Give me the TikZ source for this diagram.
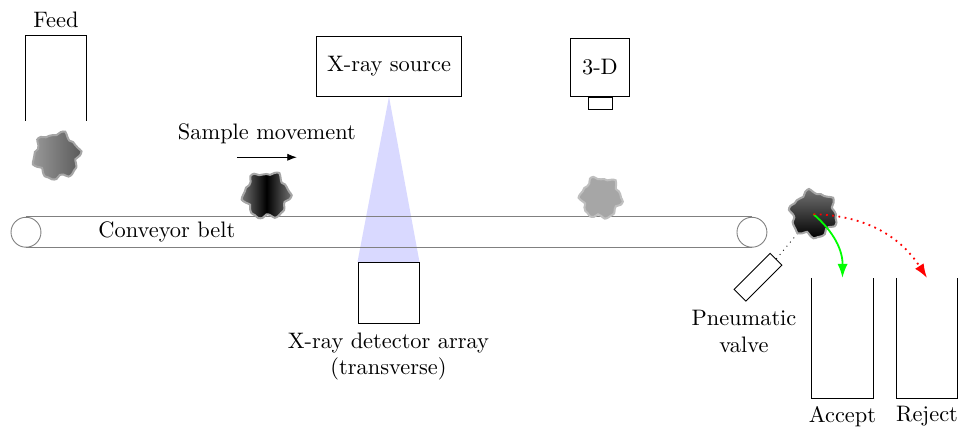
\documentclass[tikz,border=0pt]{standalone}
\usetikzlibrary{arrows.meta,positioning,backgrounds}

% a lump of ore: centre, radius, phase, style
\newcommand{\lump}[4]{\path[shift={(#1)}, #4] plot[smooth cycle, domain=0:350, samples=36, variable=\t]
  (\t:{#2*(1+0.1*sin(6*\t+#3)+0.06*sin(11*\t+2*#3))});}

\begin{document}
\begin{tikzpicture}[
  unit/.style={draw, fill=white, inner sep=0pt, align=center},
  bin/.style={inner sep=0pt, minimum width=0.95cm, minimum height=1.88cm},
  roller/.style={circle, draw=black!50, inner sep=0pt, minimum size=0.47cm},
  belt/.style={draw=black!50},
  arr/.style={-{Latex[length=2.2mm, width=1.6mm]}, thick},
  ore/.style={draw=black!35, line width=0.9pt}]
\useasboundingbox (0,0) rectangle (15.04,6.77);

% feed hopper and the two bins
\node[bin, minimum height=1.32cm, label={above:Feed}] (feed) at (0.879,5.541) {};
\draw (feed.south west) -- (feed.north west) -- (feed.north east) -- (feed.south east);
\node[bin, label={below:Accept}] (acc) at (13.226,1.46) {};
\node[bin, label={below:Reject}] (rej) at (14.553,1.46) {};
\foreach \b in {acc,rej}
  \draw (\b.north west) -- (\b.south west) -- (\b.south east) -- (\b.north east);

% x-ray source, detector and beam
\node[unit, minimum width=2.29cm, minimum height=0.94cm] (src) at (6.107,5.73) {X-ray source};
\node[unit, minimum size=0.958cm] (det) at (6.099,2.174) {};
\node[below=0.015cm of det, align=center] (detl) {X-ray detector array\\(transverse)};
\begin{scope}[on background layer]
  \fill[blue!15] (src.south) -- (det.north west) -- (det.north east) -- cycle;
\end{scope}

% 3-D camera
\node[unit, minimum width=0.94cm, minimum height=0.91cm] (cam) at (9.419,5.714) {3-D};
\node[unit, minimum width=0.377cm, minimum height=0.188cm, below=0pt of cam] (lens) {};

% conveyor
\node[roller] (rl) at (0.408,3.124) {};
\node[roller] (rr) at (11.805,3.124) {};
\draw[belt] (rl.north) -- (rr.north) (rl.south) -- (rr.south);
\node (beltl) at (2.62,3.124) {Conveyor belt};

\node (mv) at (4.19,4.663) {Sample movement};
\coordinate (m1) at (3.72,4.301);
\coordinate (m2) at (4.66,4.301);
\draw[-{Latex[length=1.5mm]}] (m1) -- (m2);

% pneumatic valve
\coordinate (b1) at (0.887,4.324);
\coordinate (b2) at (4.184,3.705);
\coordinate (b3) at (9.435,3.666);
\coordinate (b4) at (12.771,3.407);
\node[draw, rotate=45, minimum width=0.8cm, minimum height=0.26cm, inner sep=0pt] (valve) at (11.90,2.418) {};
\node[align=center] (vlab) at (11.68,1.57) {Pneumatic\\valve};
\draw[dotted] (valve.east) -- (b4);

% lumps of ore
\lump{b1}{0.35}{10}{ore, left color=black!40, right color=black!65}
\lump{b2}{0.35}{70}{ore, left color=black!55, right color=black!55, middle color=black}
\lump{b3}{0.31}{130}{ore, draw=black!25, fill=black!35}
\lump{b4}{0.35}{200}{ore, top color=black!55, bottom color=black}

% sorting
\draw[arr, green, bend left=25] (b4) to (acc.north);
\draw[arr, red, dotted, bend left=28] (b4) to (rej.north);
\end{tikzpicture}
\end{document}
